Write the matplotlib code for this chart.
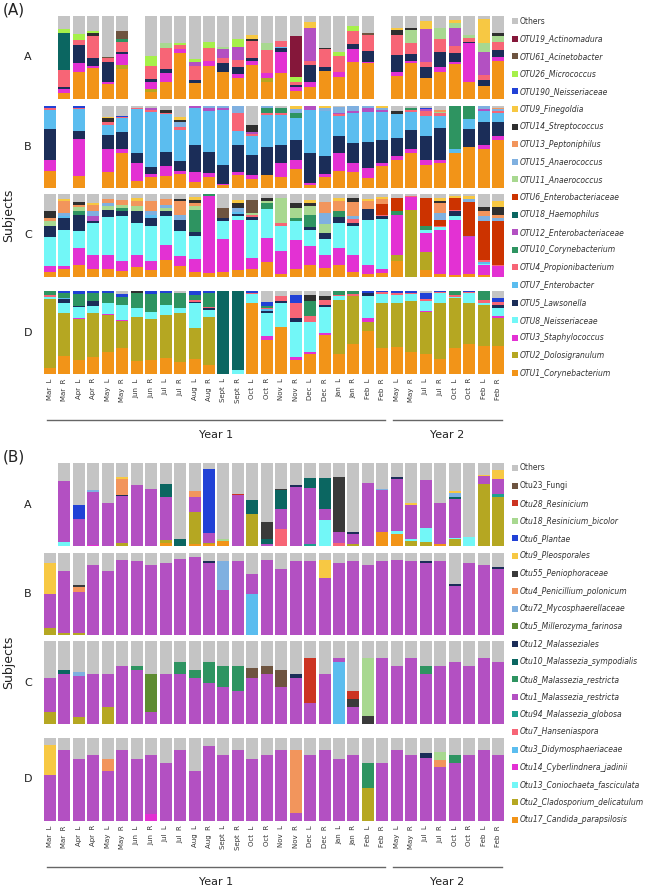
import matplotlib
matplotlib.use('Agg')
import matplotlib.pyplot as plt
from matplotlib.patches import Rectangle
from matplotlib.lines import Line2D

W, H = 647, 889
fig = plt.figure(figsize=(W / 100, H / 100), dpi=100)
plt.rcParams['font.family'] = ['DejaVu Sans']

months = ['Mar', 'Mar', 'Apr', 'Apr', 'May', 'May', 'Jun', 'Jun', 'Jul', 'Jul',
          'Aug', 'Aug', 'Sept', 'Sept', 'Oct', 'Oct', 'Nov', 'Nov', 'Dec', 'Dec',
          'Jan', 'Jan', 'Feb', 'Feb', 'May', 'May', 'Jul', 'Jul', 'Oct', 'Oct',
          'Feb', 'Feb']
sides = ['L', 'R'] * 16
tick_labels = [f'{m}  {s}' for m, s in zip(months, sides)]
subjects = ['A', 'B', 'C', 'D']
years = ['Year 1', 'Year 2']

# ---------------- bacteria (legend order, top to bottom) ----------------
bac_codes = ['O', '19', '61', '26', '190', '9', '14', '13', '15', '11', '6', '18',
             '12', '10', '4', '7', '5', '8', '3', '2', '1']
bac_names = ['Others', 'OTU19_Actinomadura', 'OTU61_Acinetobacter', 'OTU26_Micrococcus',
             'OTU190_Neisseriaceae', 'OTU9_Finegoldia', 'OTU14_Streptococcus',
             'OTU13_Peptoniphilus', 'OTU15_Anaerococcus', 'OTU11_Anaerococcus',
             'OTU6_Enterobacteriaceae', 'OTU18_Haemophilus', 'OTU12_Enterobacteriaceae',
             'OTU10_Corynebacterium', 'OTU4_Propionibacterium', 'OTU7_Enterobacter',
             'OTU5_Lawsonella', 'OTU8_Neisseriaceae', 'OTU3_Staphylococcus',
             'OTU2_Dolosigranulum', 'OTU1_Corynebacterium']
bac_colors = ['#c4c4c4', '#85173a', '#6e5440', '#a6f04a', '#2141d6', '#f7c843', '#2f2f2f',
              '#f2955c', '#7fb0e0', '#a8d890', '#cc3300', '#0b6661', '#b350c2', '#2e9461',
              '#f76576', '#5bbdef', '#1b2d58', '#72f7f7', '#e331d3', '#b5a722', '#f29418']

# ---------------- fungi (legend order, top to bottom) ----------------
fun_codes = ['O', '23', '28', '18', '6', '9', '55', '4', '72', '5', '12', '10', '8', '1',
             '94', '7', '3', '14', '13', '2', '17']
fun_names = ['Others', 'Otu23_Fungi', 'Otu28_Resinicium', 'Otu18_Resinicium_bicolor',
             'Otu6_Plantae', 'Otu9_Pleosporales', 'Otu55_Peniophoraceae',
             'Otu4_Penicillium_polonicum', 'Otu72_Mycosphaerellaceae',
             'Otu5_Millerozyma_farinosa', 'Otu12_Malasseziales',
             'Otu10_Malassezia_sympodialis', 'Otu8_Malassezia_restricta',
             'Otu1_Malassezia_restricta', 'Otu94_Malassezia_globosa', 'Otu7_Hanseniaspora',
             'Otu3_Didymosphaeriaceae', 'Otu14_Cyberlindnera_jadinii',
             'Otu13_Coniochaeta_fasciculata', 'Otu2_Cladosporium_delicatulum',
             'Otu17_Candida_parapsilosis']
fun_colors = ['#c4c4c4', '#6e5440', '#cc3322', '#a8d890', '#2141d6', '#f7c843', '#3a3a3a',
              '#f2955c', '#7fb0e0', '#5e8c31', '#1b2d58', '#0b6661', '#2e9461', '#b350c2',
              '#1fa090', '#f76576', '#5bbdef', '#e331d3', '#72f7f7', '#b5a722', '#f29418']
upright = {'Others', 'Otu23_Fungi'}

# ---------------- relative abundances (%) per sample, bacteria ----------------
bac_A = [None,
    {'1': 7, '3': 5, '5': 3, '4': 20, '18': 44, '26': 5, 'O': 16},
    {'1': 33, '3': 10, '5': 22, '4': 6, '26': 7, 'O': 22},
    {'1': 37, '3': 3, '5': 9, '4': 27, '14': 3, '26': 3, 'O': 18},
    {'1': 18, '3': 3, '5': 23, '4': 5, '61': 2, 'O': 49},
    {'1': 36, '2': 5, '3': 13, '5': 3, '4': 12, '10': 3, '61': 10, 'O': 18},
    None,
    {'1': 8, '2': 4, '3': 9, '5': 3, '4': 16, '26': 12, 'O': 48},
    {'1': 20, '3': 11, '5': 5, '4': 26, '11': 6, 'O': 32},
    {'1': 55, '3': 5, '4': 5, '26': 2, 'O': 33},
    {'1': 19, '5': 4, '4': 17, '12': 5, '26': 3, 'O': 52},
    {'1': 40, '3': 6, '4': 15, '26': 8, 'O': 31},
    {'1': 33, '5': 10, '4': 7, '12': 10, '11': 3, 'O': 37},
    {'1': 25, '3': 5, '5': 9, '4': 8, '12': 16, '26': 9, 'O': 28},
    {'1': 41, '3': 5, '5': 4, '4': 20, '14': 2, '9': 5, 'O': 23},
    {'1': 20, '2': 5, '3': 6, '4': 28, '11': 9, 'O': 32},
    {'1': 31, '3': 26, '5': 4, '7': 2, '4': 7, 'O': 30},
    {'1': 10, '3': 4, '5': 3, '4': 3, '26': 7, '19': 49, 'O': 24},
    {'1': 15, '3': 6, '5': 20, '4': 5, '12': 40, '9': 7, 'O': 7},
    {'1': 34, '5': 5, '4': 21, '14': 2, 'O': 38},
    {'1': 27, '3': 5, '4': 20, '26': 5, 'O': 43},
    {'1': 44, '3': 16, '5': 6, '4': 16, '26': 6, 'O': 12},
    {'1': 43, '3': 2, '5': 13, '4': 19, '61': 3, 'O': 20},
    None,
    {'1': 28, '3': 5, '5': 20, '4': 24, '14': 6, '9': 2, 'O': 15},
    {'1': 43, '3': 3, '5': 8, '4': 14, '11': 15, '14': 2, 'O': 15},
    {'1': 25, '5': 13, '4': 7, '12': 39, '9': 10, 'O': 6},
    {'1': 33, '3': 6, '5': 18, '4': 15, '11': 14, 'O': 14},
    {'1': 42, '3': 2, '5': 11, '4': 9, '12': 21, '11': 7, '9': 3, 'O': 5},
    {'1': 21, '3': 46, '5': 2, '4': 5, '11': 3, 'O': 23},
    {'1': 16, '5': 7, '4': 6, '12': 28, '11': 10, '9': 29, 'O': 4},
    {'1': 46, '3': 5, '5': 8, '4': 10, '11': 7, '14': 4, 'O': 20}]

bac_B = [
    {'1': 21, '3': 13, '5': 38, '7': 23, '4': 3, '190': 2},
    None,
    {'1': 15, '3': 45, '5': 10, '7': 26, '4': 2, '190': 2},
    None,
    {'1': 20, '3': 28, '5': 17, '7': 12, '4': 4, '14': 4, '9': 1, 'O': 14},
    {'1': 43, '3': 5, '5': 21, '7': 17, '4': 2, '190': 1, 'O': 12},
    {'1': 9, '3': 22, '5': 13, '7': 54, '4': 2, 'O': 2},
    {'1': 13, '3': 4, '5': 9, '7': 67, '4': 2, '12': 2, 'O': 3},
    {'1': 15, '3': 12, '5': 17, '7': 45, '4': 2, '14': 3, 'O': 5},
    {'1': 17, '3': 3, '5': 12, '7': 37, '4': 4, '15': 6, '14': 2, '9': 4, 'O': 13},
    {'1': 7, '3': 13, '5': 34, '7': 45, '4': 1, '12': 2},
    {'1': 13, '3': 5, '5': 26, '7': 50, '12': 3, '15': 3},
    {'1': 4, '3': 1, '5': 23, '7': 67, '12': 3, '15': 2},
    {'1': 16, '3': 3, '5': 34, '7': 16, '4': 23, '15': 8},
    {'1': 11, '3': 5, '5': 24, '7': 22, '4': 3, '12': 2, '14': 8, 'O': 23},
    {'1': 16, '5': 34, '7': 39, '4': 2, '10': 6, '15': 3},
    {'1': 13, '3': 17, '5': 22, '7': 37, '4': 2, '10': 6, '14': 1, 'O': 2},
    {'1': 23, '3': 11, '5': 24, '7': 27, '10': 6, '15': 5, '9': 4},
    {'1': 4, '3': 2, '5': 37, '7': 52, '12': 5},
    {'1': 13, '3': 4, '5': 22, '7': 55, '15': 4, '9': 2},
    {'1': 21, '3': 22, '5': 21, '7': 24, '4': 2, '12': 2, '15': 7, 'O': 1},
    {'1': 20, '3': 11, '5': 24, '7': 37, '12': 2, '15': 6},
    {'1': 12, '3': 12, '5': 32, '7': 37, '12': 4, '15': 3},
    {'1': 27, '3': 4, '5': 28, '7': 34, '12': 2, '15': 2, '9': 3},
    {'1': 34, '3': 5, '5': 22, '7': 29, '14': 4, 'O': 6},
    {'1': 43, '3': 4, '5': 24, '7': 22, '4': 2, '10': 3, 'O': 2},
    {'1': 28, '3': 6, '5': 30, '7': 24, '4': 6, '12': 2, '190': 2, 'O': 2},
    {'1': 30, '3': 4, '5': 39, '7': 15, '4': 3, '11': 2, '13': 2, 'O': 5},
    {'1': 43, '7': 4, '10': 53},
    {'1': 50, '5': 22, '7': 12, '10': 16},
    {'1': 48, '3': 4, '5': 29, '7': 13, '12': 2, '15': 4},
    {'1': 59, '3': 4, '5': 18, '7': 10, '4': 3, '13': 2, '15': 2, 'O': 2}]

bac_C = [
    {'1': 6, '3': 7, '8': 35, '5': 14, '11': 5, '13': 4, '14': 9, 'O': 20},
    {'1': 10, '3': 3, '8': 44, '5': 14, '7': 3, '15': 3, '13': 14, '9': 3, 'O': 6},
    {'1': 14, '3': 21, '8': 20, '5': 20, '10': 4, '11': 5, '13': 3, '14': 3, 'O': 10},
    {'1': 10, '3': 16, '8': 39, '5': 2, '15': 6, '12': 6, '13': 8, '9': 2, 'O': 11},
    {'1': 10, '3': 17, '8': 45, '5': 9, '11': 4, '15': 4, '13': 5, 'O': 6},
    {'1': 7, '3': 12, '8': 54, '5': 6, '10': 4, '11': 4, '13': 6, 'O': 7},
    {'1': 12, '3': 15, '8': 38, '5': 15, '11': 6, '13': 5, '9': 4, 'O': 5},
    {'1': 9, '3': 10, '8': 43, '5': 9, '7': 4, '15': 4, '13': 12, 'O': 9},
    {'1': 21, '3': 17, '8': 36, '5': 5, '11': 4, '15': 4, '13': 7, 'O': 6},
    {'1': 13, '3': 12, '8': 30, '5': 14, '15': 6, '13': 16, '14': 3, 'O': 6},
    {'1': 6, '3': 16, '8': 27, '5': 5, '10': 27, '11': 5, '14': 4, '13': 3, '9': 3, 'O': 4},
    {'1': 5, '3': 93, '10': 2},
    {'1': 6, '3': 40, '8': 21, '5': 4, '61': 12, 'O': 17},
    {'1': 9, '3': 60, '8': 4, '5': 3, '7': 2, '15': 5, '9': 4, '14': 6, 'O': 7},
    {'1': 10, '3': 13, '8': 46, '4': 3, '5': 3, '61': 16, '11': 2, 'O': 7},
    {'1': 18, '3': 29, '8': 35, '10': 7, '11': 3, '14': 3, 'O': 5},
    {'1': 4, '3': 27, '8': 31, '4': 3, '11': 30, 'O': 5},
    {'1': 10, '3': 34, '8': 24, '10': 3, '11': 12, '14': 6, 'O': 11},
    {'1': 15, '3': 22, '8': 20, '5': 3, '10': 15, '11': 11, '14': 3, '9': 4, 'O': 7},
    {'1': 11, '3': 15, '8': 20, '5': 7, '11': 11, '15': 13, '13': 13, 'O': 10},
    {'1': 14, '3': 21, '8': 30, '5': 7, '10': 7, '13': 12, '9': 4, 'O': 5},
    {'1': 6, '3': 20, '8': 36, '5': 3, '4': 5, '15': 3, '13': 17, '14': 5, 'O': 5},
    {'1': 4, '3': 10, '8': 55, '5': 13, '13': 9, '9': 3, 'O': 6},
    {'1': 5, '3': 5, '8': 60, '5': 3, '4': 2, '6': 13, '13': 6, '9': 2, 'O': 4},
    {'1': 19, '2': 7, '3': 49, '10': 4, '6': 16, 'O': 5},
    {'2': 81, '3': 15, '4': 2, 'O': 2},
    {'1': 9, '2': 21, '3': 23, '8': 4, '10': 4, '6': 34, 'O': 5},
    {'1': 4, '3': 53, '8': 3, '4': 2, '6': 7, '15': 8, '13': 12, '14': 2, '9': 4, 'O': 5},
    {'1': 2, '3': 67, '8': 4, '5': 6, '4': 2, '6': 14, '9': 2, 'O': 3},
    {'1': 4, '3': 44, '12': 2, '6': 40, '15': 4, '9': 4, 'O': 2},
    {'1': 2, '3': 12, '8': 2, '4': 3, '6': 47, '7': 2, '15': 5, '13': 6, '14': 5, 'O': 16},
    {'3': 13, '4': 2, '6': 52, '15': 4, '13': 4, '14': 9, '9': 7, 'O': 9}]

bac_D = [
    {'1': 7, '2': 83, '8': 3, '10': 5, '4': 2},
    {'1': 22, '2': 52, '8': 11, '5': 5, '10': 6, '7': 2, '190': 2},
    {'1': 17, '2': 51, '3': 1, '8': 13, '5': 2, '10': 14, '190': 4},
    {'1': 20, '2': 54, '8': 8, '5': 6, '10': 10, '190': 2},
    {'1': 27, '2': 45, '3': 1, '8': 14, '10': 12, '190': 2},
    {'1': 31, '2': 33, '3': 1, '8': 18, '10': 10, '190': 3, 'O': 4},
    {'1': 16, '2': 53, '8': 10, '10': 19, '14': 2},
    {'1': 17, '2': 49, '8': 9, '10': 21, '190': 4},
    {'1': 19, '2': 52, '8': 12, '10': 14, '190': 3},
    {'1': 14, '2': 60, '8': 5, '10': 19, 'O': 2},
    {'1': 18, '2': 37, '8': 31, '5': 1, '4': 2, '10': 6, '190': 5},
    {'1': 11, '2': 58, '8': 8, '5': 2, '4': 2, '10': 17, '190': 2},
    {'18': 100},
    {'8': 5, '18': 95},
    {'1': 86, '8': 10, '4': 2, '190': 2},
    {'1': 41, '3': 5, '8': 28, '5': 2, '7': 2, '4': 2, '10': 2, '190': 5, 'O': 13},
    {'1': 57, '8': 29, '5': 2, '4': 6, 'O': 6},
    {'1': 17, '3': 3, '8': 43, '5': 4, '4': 18, '190': 10, 'O': 5},
    {'1': 24, '3': 3, '8': 36, '4': 7, '10': 18, '14': 7, 'O': 5},
    {'1': 47, '3': 3, '8': 31, '5': 2, '4': 6, '14': 5, 'O': 6},
    {'1': 24, '2': 65, '8': 5, '4': 1, '10': 5},
    {'1': 36, '2': 58, '4': 2, '10': 4},
    {'1': 52, '2': 11, '3': 4, '8': 27, '5': 4, '190': 2},
    {'1': 31, '2': 54, '8': 11, '4': 3, '190': 1},
    {'1': 33, '2': 53, '8': 9, '4': 3, '190': 2},
    {'1': 27, '2': 61, '8': 8, '4': 2, '190': 2},
    {'1': 24, '2': 51, '3': 1, '8': 12, '4': 2, '190': 7, 'O': 3},
    {'1': 18, '2': 69, '8': 11, '4': 2, '190': 1},
    {'1': 31, '2': 61, '8': 1, '4': 2, '10': 5},
    {'1': 36, '2': 49, '8': 12, '4': 2, '190': 1},
    {'1': 34, '2': 49, '8': 3, '4': 3, '10': 11},
    {'1': 34, '2': 34, '3': 2, '8': 10, '4': 4, '5': 3, '190': 5, 'O': 8}]

# ---------------- relative abundances (%) per sample, fungi ----------------
fun_A = [None,
    {'13': 5, '1': 73, 'O': 22},
    {'1': 32, '6': 17, 'O': 51},
    {'14': 1, '1': 64, '72': 2, 'O': 33},
    {'1': 52, 'O': 48},
    {'2': 4, '1': 56, '12': 2, '4': 19, '9': 2, 'O': 17},
    {'1': 74, 'O': 26},
    {'1': 69, 'O': 31},
    {'17': 4, '2': 3, '1': 52, '10': 16, 'O': 25},
    {'10': 9, 'O': 91},
    {'17': 3, '2': 38, '1': 18, '4': 7, 'O': 34},
    {'17': 2, '2': 2, '1': 12, '6': 77, 'O': 7},
    {'17': 6, '18': 2, 'O': 92},
    {'1': 62, '28': 1, 'O': 37},
    {'2': 38, '10': 18, 'O': 44},
    {'1': 3, '10': 6, '55': 20, 'O': 71},
    {'7': 20, '1': 25, '10': 23, '55': 1, 'O': 31},
    {'1': 71, '12': 3, 'O': 26},
    {'94': 3, '1': 67, '10': 12, 'O': 18},
    {'13': 31, '1': 13, '10': 38, 'O': 18},
    {'7': 4, '1': 13, '55': 67, 'O': 17},
    {'2': 3, '1': 12, '12': 2, 'O': 83},
    {'1': 76, 'O': 24},
    {'17': 17, '1': 50, '72': 2, 'O': 31},
    {'17': 14, '13': 4, '1': 63, '12': 2, 'O': 17},
    {'2': 6, '13': 3, '1': 41, '9': 2, 'O': 48},
    {'2': 5, '13': 17, '1': 58, 'O': 20},
    {'17': 2, '1': 50, 'O': 48},
    {'2': 8, '13': 2, '1': 47, '10': 3, '72': 4, '9': 3, 'O': 34},
    {'13': 11, 'O': 89},
    {'2': 75, '1': 9, '9': 2, 'O': 14},
    {'2': 60, '94': 3, '1': 18, '9': 11, 'O': 9}]

fun_B = [
    {'2': 8, '1': 42, '9': 38, 'O': 12},
    {'2': 3, '1': 75, 'O': 22},
    {'2': 3, '1': 50, '4': 5, '55': 3, 'O': 39},
    {'1': 85, 'O': 15},
    {'1': 78, 'O': 22},
    {'1': 92, 'O': 8},
    {'1': 90, 'O': 10},
    {'1': 85, 'O': 15},
    {'1': 88, 'O': 12},
    {'1': 93, 'O': 7},
    {'1': 95, 'O': 5},
    {'1': 88, '12': 2, 'O': 10},
    {'1': 55, '72': 35, 'O': 10},
    {'1': 90, 'O': 10},
    {'3': 50, '1': 25, 'O': 25},
    {'1': 92, 'O': 8},
    {'1': 80, 'O': 20},
    {'1': 90, 'O': 10},
    {'1': 90, 'O': 10},
    {'1': 70, '9': 22, 'O': 8},
    {'1': 88, 'O': 12},
    {'1': 90, 'O': 10},
    {'1': 85, 'O': 15},
    {'1': 90, 'O': 10},
    {'1': 92, 'O': 8},
    {'1': 90, 'O': 10},
    {'1': 88, '12': 2, 'O': 10},
    {'1': 90, 'O': 10},
    {'1': 60, '12': 2, 'O': 38},
    {'1': 88, 'O': 12},
    {'1': 85, 'O': 15},
    {'1': 80, '12': 3, 'O': 17}]

fun_C = [
    {'2': 15, '1': 40, 'O': 45},
    {'10': 5, '1': 60, 'O': 35},
    {'2': 8, '1': 50, '72': 5, 'O': 37},
    {'1': 60, 'O': 40},
    {'2': 20, '1': 40, 'O': 40},
    {'1': 70, 'O': 30},
    {'1': 65, '8': 5, 'O': 30},
    {'1': 15, '5': 45, 'O': 40},
    {'1': 60, 'O': 40},
    {'1': 60, '8': 15, 'O': 25},
    {'1': 55, '8': 10, 'O': 35},
    {'1': 50, '8': 25, 'O': 25},
    {'1': 45, '8': 25, 'O': 30},
    {'1': 40, '8': 30, 'O': 30},
    {'1': 55, '23': 12, 'O': 33},
    {'1': 60, '23': 10, 'O': 30},
    {'1': 45, '23': 20, 'O': 35},
    {'1': 55, '12': 5, 'O': 40},
    {'1': 25, '28': 55, 'O': 20},
    {'1': 60, 'O': 40},
    {'3': 75, '1': 5, 'O': 20},
    {'55': 10, '28': 10, '1': 20, 'O': 60},
    {'55': 10, '18': 70, 'O': 20},
    {'1': 80, 'O': 20},
    {'1': 70, 'O': 30},
    {'1': 80, 'O': 20},
    {'1': 60, '8': 10, 'O': 30},
    {'1': 70, 'O': 30},
    {'1': 75, 'O': 25},
    {'1': 70, 'O': 30},
    {'1': 80, 'O': 20},
    {'1': 75, 'O': 25}]

fun_D = [
    {'1': 55, '9': 37, 'O': 8},
    {'1': 85, 'O': 15},
    {'1': 75, 'O': 25},
    {'1': 80, 'O': 20},
    {'1': 60, '4': 15, 'O': 25},
    {'1': 85, 'O': 15},
    {'1': 75, 'O': 25},
    {'14': 8, '1': 72, 'O': 20},
    {'1': 70, 'O': 30},
    {'1': 85, 'O': 15},
    {'1': 60, 'O': 40},
    {'1': 90, 'O': 10},
    {'1': 80, 'O': 20},
    {'1': 85, 'O': 15},
    {'1': 75, 'O': 25},
    {'1': 80, 'O': 20},
    {'1': 85, 'O': 15},
    {'1': 10, '4': 75, 'O': 15},
    {'1': 80, 'O': 20},
    {'1': 85, 'O': 15},
    {'1': 75, 'O': 25},
    {'1': 80, 'O': 20},
    {'2': 40, '8': 30, 'O': 30},
    {'1': 70, 'O': 30},
    {'1': 85, 'O': 15},
    {'1': 80, 'O': 20},
    {'1': 76, '12': 6, 'O': 18},
    {'1': 65, '4': 8, '18': 10, 'O': 17},
    {'1': 70, '8': 10, 'O': 20},
    {'1': 80, 'O': 20},
    {'1': 85, 'O': 15},
    {'1': 80, 'O': 20}]

# ---------------- layout (pixels) ----------------
AX_X0, AX_X1 = 42.8, 505.2
BAR_W = 0.83


def px_axes(x0, y0, x1, y1):
    return fig.add_axes([x0 / W, 1 - y1 / H, (x1 - x0) / W, (y1 - y0) / H])


def ftext(x, y, s, **kw):
    fig.text(x / W, 1 - y / H, s, **kw)


def draw_panel(ax, data, codes, colors):
    xs = list(range(len(data)))
    bottoms = [0.0] * len(data)
    totals = [sum(d.values()) if d else 1.0 for d in data]
    for code, col in zip(reversed(codes), reversed(colors)):
        hs = [(d.get(code, 0) / t * 100 if d else 0) for d, t in zip(data, totals)]
        ax.bar(xs, hs, bottom=bottoms, width=BAR_W, color=col, linewidth=0)
        bottoms = [b + h for b, h in zip(bottoms, hs)]
    ax.set_xlim(-0.5, len(data) - 0.5)
    ax.set_ylim(0, 100)
    for s in ax.spines.values():
        s.set_visible(False)
    ax.set_yticks([])
    ax.set_xticks([])


def draw_block(y_off, panels, codes, names, colors, tag):
    rows = [(16, 99), (106, 188), (194, 277), (291, 374)]
    for i, (data, (y0, y1)) in enumerate(zip(panels, rows)):
        ax = px_axes(AX_X0, y0 + y_off, AX_X1, y1 + y_off)
        draw_panel(ax, data, codes, colors)
        ftext(28, (y0 + y1) / 2 + y_off, subjects[i], fontsize=8, ha='center',
              va='center', color='#222222')
        if i == 3:
            ax.set_xticks(range(len(tick_labels)))
            ax.set_xticklabels(tick_labels, rotation=90, fontsize=5, color='#333333')
            ax.tick_params(axis='x', length=0, pad=3)
    ftext(3, 10 + y_off, tag, fontsize=11, ha='left', va='center', color='#222222')
    ftext(9, 215 + y_off, 'Subjects', fontsize=9, rotation=90, ha='center',
          va='center', color='#222222')
    # year brackets
    for (xa, xb), lab in zip([(47, 385), (393, 502)], years):
        fig.add_artist(Line2D([xa / W, xb / W], [1 - (420 + y_off) / H] * 2,
                              color='#666666', lw=1.0))
        ftext((xa + xb) / 2, 435 + y_off, lab, fontsize=8, ha='center', va='center',
              color='#222222')
    # legend
    for k, (nm, col) in enumerate(zip(names, colors)):
        yc = 21 + 17.6 * k + y_off
        fig.add_artist(Rectangle((512 / W, 1 - (yc + 3) / H), 6 / W, 6 / H,
                                 transform=fig.transFigure, color=col, lw=0))
        ftext(520, yc, nm, fontsize=5.5, ha='left', va='center', color='#333333',
              style='normal' if nm in upright else 'italic')


draw_block(0, [bac_A, bac_B, bac_C, bac_D], bac_codes, bac_names, bac_colors, '(A)')
draw_block(447, [fun_A, fun_B, fun_C, fun_D], fun_codes, fun_names, fun_colors, '(B)')

fig.savefig('out.png', dpi=100)
